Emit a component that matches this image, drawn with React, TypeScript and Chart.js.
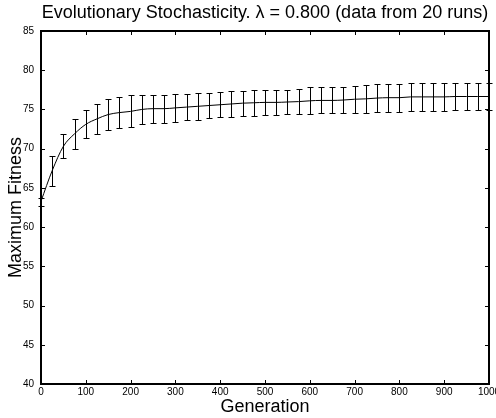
import React, { useEffect, useRef } from "react";
import { Chart, registerables } from "chart.js";

Chart.register(...registerables);

const generations = [
  0, 25, 50, 75, 100, 125, 150, 175, 200, 225, 250, 275, 300, 325, 350, 375, 400,
  425, 450, 475, 500, 525, 550, 575, 600, 625, 650, 675, 700, 725, 750, 775, 800,
  825, 850, 875, 900, 925, 950, 975, 1000,
];

const meanFitness = [
  63.3, 67.2, 70.3, 71.9, 73.1, 73.8, 74.35, 74.6, 74.75, 75.0, 75.1, 75.1, 75.2,
  75.3, 75.4, 75.5, 75.6, 75.7, 75.8, 75.85, 75.9, 75.9, 75.95, 76.0, 76.1, 76.15,
  76.15, 76.2, 76.3, 76.35, 76.45, 76.5, 76.5, 76.6, 76.6, 76.6, 76.6, 76.65, 76.65,
  76.65, 76.65,
];

const upperFitness = [
  63.7, 69.1, 71.9, 73.8, 74.9, 75.7, 76.3, 76.6, 76.8, 76.9, 76.9, 76.9, 77.0,
  77.0, 77.1, 77.1, 77.2, 77.3, 77.4, 77.5, 77.5, 77.5, 77.5, 77.6, 77.8, 77.8,
  77.8, 77.9, 78.0, 78.1, 78.2, 78.3, 78.3, 78.4, 78.4, 78.4, 78.4, 78.4, 78.4,
  78.4, 78.4,
];

const lowerFitness = [
  62.7, 65.3, 68.8, 70.0, 71.3, 71.9, 72.4, 72.6, 72.7, 73.1, 73.3, 73.3, 73.4,
  73.6, 73.7, 73.9, 74.0, 74.1, 74.2, 74.2, 74.3, 74.3, 74.4, 74.4, 74.4, 74.5,
  74.5, 74.5, 74.6, 74.6, 74.7, 74.7, 74.7, 74.8, 74.8, 74.8, 74.8, 74.9, 74.9,
  74.9, 74.9,
];

const xTickValues = [0, 100, 200, 300, 400, 500, 600, 700, 800, 900, 1000];
const yTickValues = [40, 45, 50, 55, 60, 65, 70, 75, 80, 85];

const titleText = "Evolutionary Stochasticity. \u03bb = 0.800 (data from 20 runs)";
const xTitle = "Generation";
const yTitle = "Maximum Fitness";

const FONT = "'Liberation Sans', Arial, Helvetica, sans-serif";

const errorBarPlugin = {
  id: "errorBars",
  afterDatasetsDraw(chart: any) {
    const { ctx, scales } = chart;
    const x = scales.x;
    const y = scales.y;
    ctx.save();
    ctx.strokeStyle = "#000";
    ctx.lineWidth = 1;
    ctx.beginPath();
    generations.forEach((g, i) => {
      const px = Math.round(x.getPixelForValue(g)) + 0.5;
      const top = Math.round(y.getPixelForValue(upperFitness[i])) + 0.5;
      const bot = Math.round(y.getPixelForValue(lowerFitness[i])) + 0.5;
      ctx.moveTo(px, top);
      ctx.lineTo(px, bot);
      ctx.moveTo(px - 3, top);
      ctx.lineTo(px + 3, top);
      ctx.moveTo(px - 3, bot);
      ctx.lineTo(px + 3, bot);
    });
    ctx.stroke();
    ctx.restore();
  },
};

const boxPlugin = {
  id: "matlabBox",
  afterDraw(chart: any) {
    const { ctx, chartArea: a, scales } = chart;
    const tick = 4;
    ctx.save();
    ctx.strokeStyle = "#000";
    ctx.lineWidth = 1;
    ctx.beginPath();
    xTickValues.forEach((v) => {
      const px = Math.round(scales.x.getPixelForValue(v)) + 0.5;
      ctx.moveTo(px, a.bottom);
      ctx.lineTo(px, a.bottom - tick);
      ctx.moveTo(px, a.top);
      ctx.lineTo(px, a.top + tick);
    });
    yTickValues.forEach((v) => {
      const py = Math.round(scales.y.getPixelForValue(v)) + 0.5;
      ctx.moveTo(a.left, py);
      ctx.lineTo(a.left + tick, py);
      ctx.moveTo(a.right, py);
      ctx.lineTo(a.right - tick, py);
    });
    ctx.stroke();
    ctx.lineWidth = 2;
    ctx.strokeRect(a.left, a.top, a.right - a.left, a.bottom - a.top);
    ctx.restore();
  },
};

export default function App() {
  const canvasRef = useRef<HTMLCanvasElement | null>(null);

  useEffect(() => {
    if (!canvasRef.current) return;
    const chart = new Chart(canvasRef.current, {
      type: "line",
      data: {
        datasets: [
          {
            data: generations.map((g, i) => ({ x: g, y: meanFitness[i] })),
            borderColor: "#000",
            borderWidth: 1,
            pointRadius: 0,
            fill: false,
            cubicInterpolationMode: "monotone",
          },
        ],
      },
      options: {
        animation: false,
        responsive: false,
        maintainAspectRatio: false,
        layout: { padding: { left: 0, right: 7, top: 0, bottom: 0 } },
        plugins: {
          legend: { display: false },
          tooltip: { enabled: false },
          title: {
            display: true,
            text: titleText,
            fullSize: false,
            color: "#000",
            font: { family: FONT, size: 18, weight: "normal" },
            padding: { top: 2, bottom: 7.4 },
          },
        },
        scales: {
          x: {
            type: "linear",
            min: 0,
            max: 1000,
            grid: { display: false, drawTicks: false },
            border: { display: false },
            ticks: {
              stepSize: 100,
              color: "#000",
              padding: 2,
              maxRotation: 0,
              autoSkip: false,
              font: { family: FONT, size: 10 },
              callback: (v: any) => String(v),
            },
            title: {
              display: true,
              text: xTitle,
              color: "#000",
              font: { family: FONT, size: 18 },
              padding: { top: 0, bottom: 0 },
            },
            afterFit: (s: any) => {
              s.height = 34;
              s.paddingLeft = 0;
              s.paddingRight = 0;
            },
          },
          y: {
            type: "linear",
            min: 40,
            max: 85,
            grid: { display: false, drawTicks: false },
            border: { display: false },
            ticks: {
              stepSize: 5,
              color: "#000",
              padding: 7,
              font: { family: FONT, size: 10 },
              callback: (v: any) => String(v),
            },
            title: {
              display: true,
              text: yTitle,
              color: "#000",
              font: { family: FONT, size: 18 },
              padding: { top: 5, bottom: 0 },
            },
            afterFit: (s: any) => {
              s.width = 41;
              s.paddingTop = 0;
              s.paddingBottom = 0;
            },
          },
        },
      },
      plugins: [errorBarPlugin, boxPlugin],
    });
    return () => chart.destroy();
  }, []);

  return (
    <div
      style={{
        position: "fixed",
        left: 0,
        top: 0,
        width: 496,
        height: 418,
        background: "#fff",
        overflow: "hidden",
      }}
    >
      <canvas ref={canvasRef} width={496} height={418} style={{ width: 496, height: 418, display: "block" }} />
    </div>
  );
}
